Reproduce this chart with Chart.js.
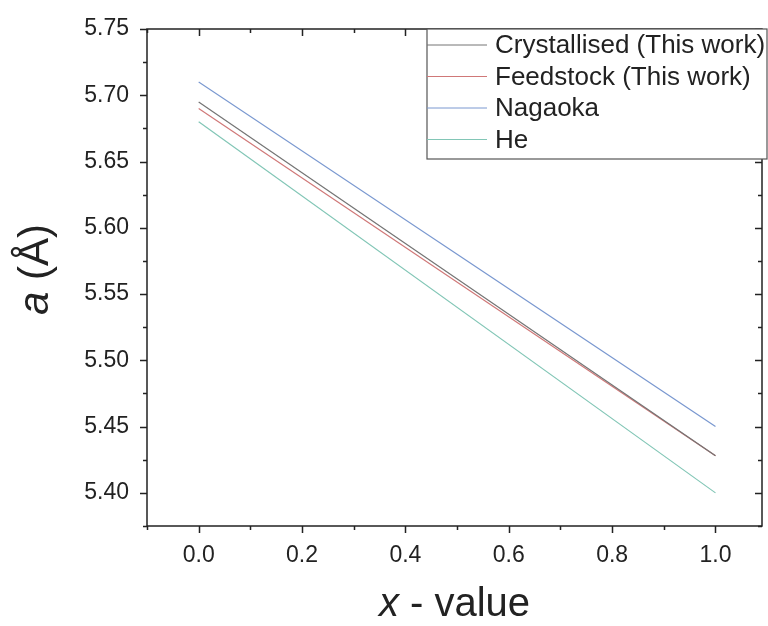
<!DOCTYPE html>
<html>
<head>
<meta charset="utf-8">
<script src="https://cdn.jsdelivr.net/npm/chart.js@4/dist/chart.umd.min.js"></script>
<style>
  html, body { margin: 0; padding: 0; background: #fff; }
  #wrap { width: 768px; height: 626px; position: relative; }
</style>
</head>
<body>
<div id="wrap"><canvas id="graficoA"></canvas></div>
<script>
// dati
const xValori = [0.0, 1.0];
const serieNomi = ['Crystallised (This work)', 'Feedstock (This work)', 'Nagaoka', 'He'];
const crystallised = [5.695, 5.428];
const feedstock = [5.690, 5.428];
const nagaoka = [5.710, 5.450];
const he = [5.680, 5.400];
const serieValori = [crystallised, feedstock, nagaoka, he];
const serieColori = ['#747474', '#d07878', '#7a98d0', '#82c6b6'];

const FONT = '"Liberation Sans", Arial, sans-serif';

const isMaggioreY = v => Math.round(v * 1000) % 50 === 0;
const isMaggioreX = v => Math.round(v * 10) % 2 === 0;

// assi, tacche, legenda e titoli disegnati a mano
const disegnaCornice = {
    id: 'cornice',
    afterDraw(chart) {
        const ctx = chart.ctx;
        const { left, right, top, bottom } = chart.chartArea;
        const xs = chart.scales.x, ys = chart.scales.y;
        ctx.save();
        ctx.strokeStyle = '#222';
        ctx.lineWidth = 1.5;
        ctx.strokeRect(left, top, right - left, bottom - top);

        ys.ticks.forEach(t => {
            const y = Math.round(ys.getPixelForValue(t.value)) + 0.5;
            const len = isMaggioreY(t.value) ? 7 : 4;
            ctx.beginPath();
            ctx.moveTo(left - len, y); ctx.lineTo(left, y);
            ctx.moveTo(right, y); ctx.lineTo(right - len, y);
            ctx.stroke();
        });
        xs.ticks.forEach(t => {
            const x = Math.round(xs.getPixelForValue(t.value)) + 0.5;
            const len = isMaggioreX(t.value) ? 7 : 4;
            ctx.beginPath();
            ctx.moveTo(x, bottom); ctx.lineTo(x, bottom + len);
            ctx.moveTo(x, top); ctx.lineTo(x, top + len);
            ctx.stroke();
        });

        // legenda
        const lx = 427, ly = 29, lw = 340, lh = 130;
        ctx.lineWidth = 1.2;
        ctx.strokeStyle = '#555';
        ctx.fillStyle = '#fff';
        ctx.fillRect(lx, ly, lw, lh);
        ctx.strokeRect(lx, ly, lw, lh);
        ctx.font = '26px ' + FONT;
        ctx.textBaseline = 'middle';
        chart.data.datasets.forEach((ds, i) => {
            const y = 45 + i * 31.5;
            ctx.strokeStyle = ds.borderColor;
            ctx.lineWidth = 1;
            ctx.beginPath();
            ctx.moveTo(lx, y); ctx.lineTo(lx + 60, y);
            ctx.stroke();
            ctx.fillStyle = '#222';
            ctx.fillText(ds.label, 495, y + 1);
        });

        // titolo asse x
        ctx.fillStyle = '#222';
        ctx.textBaseline = 'alphabetic';
        ctx.font = '40px ' + FONT;
        const resto = ' - value';
        const wResto = ctx.measureText(resto).width;
        ctx.font = 'italic 40px ' + FONT;
        const wX = ctx.measureText('x').width;
        const sx = (left + right) / 2 - (wX + wResto) / 2;
        ctx.fillText('x', sx, 616);
        ctx.font = '40px ' + FONT;
        ctx.fillText(resto, sx + wX, 616);

        // titolo asse y
        ctx.translate(48, (top + bottom) / 2 - 8);
        ctx.rotate(-Math.PI / 2);
        ctx.font = 'italic 42px ' + FONT;
        const wa = ctx.measureText('a').width;
        ctx.font = '42px ' + FONT;
        const wb = ctx.measureText(' (Å)').width;
        ctx.font = 'italic 42px ' + FONT;
        ctx.fillText('a', -(wa + wb) / 2, 0);
        ctx.font = '42px ' + FONT;
        ctx.fillText(' (Å)', -(wa + wb) / 2 + wa, 0);
        ctx.restore();
    }
};

new Chart(document.getElementById('graficoA'), {
    type: 'scatter',
    data: {
        datasets: serieNomi.map((nome, i) => ({
            label: nome,
            data: xValori.map((x, j) => ({ x: x, y: serieValori[i][j] })),
            showLine: true,
            borderColor: serieColori[i],
            backgroundColor: serieColori[i],
            borderWidth: 1.2,
            pointRadius: 0
        }))
    },
    options: {
        responsive: true,
        maintainAspectRatio: false,
        animation: false,
        layout: { padding: { top: 29, right: 6, left: 0, bottom: 0 } },
        plugins: {
            legend: { display: false },
            tooltip: { enabled: false }
        },
        scales: {
            x: {
                type: 'linear',
                min: -0.1,
                max: 1.09,
                grid: { display: false, drawTicks: false },
                border: { display: false },
                afterFit: s => { s.height = 100; s.paddingLeft = 0; s.paddingRight = 0; },
                ticks: {
                    stepSize: 0.1,
                    includeBounds: false,
                    autoSkip: false,
                    maxRotation: 0,
                    padding: 16,
                    color: '#222',
                    font: { family: FONT, size: 23 },
                    callback: v => isMaggioreX(v) ? v.toFixed(1) : ''
                }
            },
            y: {
                min: 5.375,
                max: 5.75,
                grid: { display: false, drawTicks: false },
                border: { display: false },
                afterFit: s => { s.width = 147; s.paddingTop = 0; s.paddingBottom = 0; },
                ticks: {
                    stepSize: 0.025,
                    includeBounds: false,
                    autoSkip: false,
                    padding: 18,
                    color: '#222',
                    font: { family: FONT, size: 23 },
                    callback: v => isMaggioreY(v) ? v.toFixed(2) : ''
                }
            }
        }
    },
    plugins: [disegnaCornice]
});
</script>
</body>
</html>
